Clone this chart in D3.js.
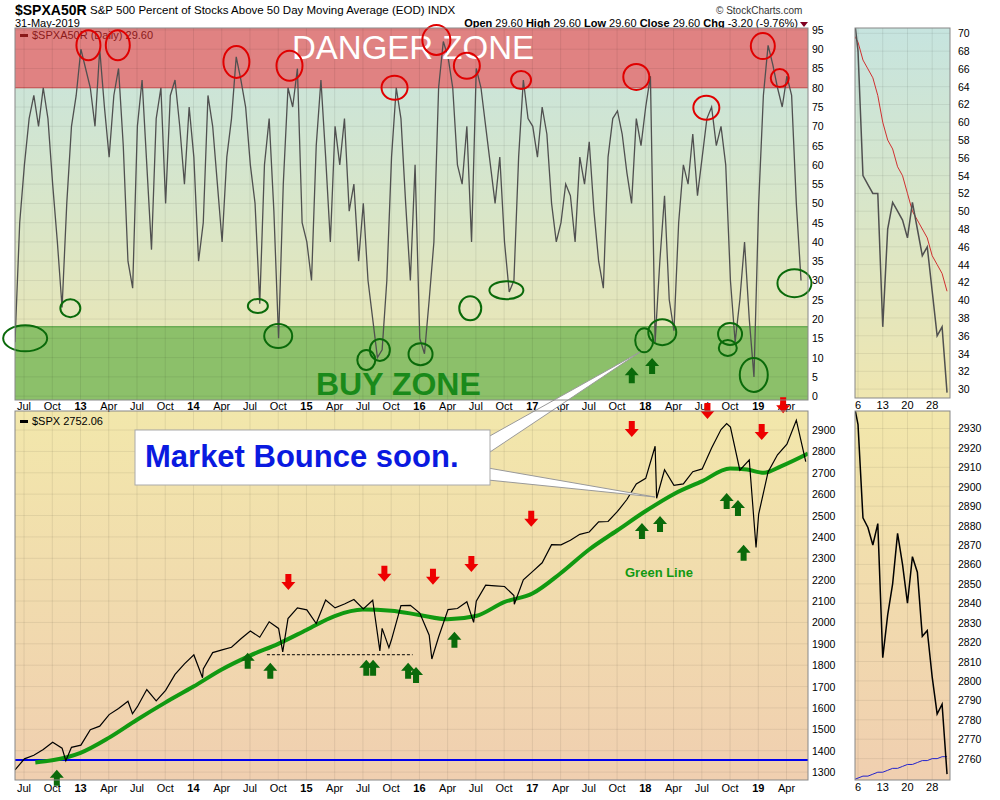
<!DOCTYPE html><html><head><meta charset="utf-8"><script src="https://cdn.jsdelivr.net/npm/d3@7"></script>
<style>body{margin:0;background:#fff}text{font-family:Arial,"Liberation Sans",sans-serif}</style></head><body><svg id="c" width="1000" height="800"></svg>
<script>
// semi-monthly readings of $SPXA50R starting Jun 2012
const pctStart = 2012.42;
const pctValues = [14,45,60,72,78,70,80,72,55,40,23,50,70,78,
90,85,80,70,90,75,62,78,85,65,35,28,70,82,60,38,72,80,50,78,82,70,55,75,
62,35,45,78,70,55,40,62,72,88,82,75,60,50,24,60,72,48,15,55,80,75,85,45,
40,30,65,82,62,40,70,60,72,48,55,35,50,30,20,10,12,30,62,80,72,50,30,60,
15,11,25,40,80,92,88,80,60,55,70,40,85,80,70,60,50,62,40,27,30,62,82,72,
70,62,75,68,50,40,45,55,52,40,62,55,66,48,35,28,62,72,74,68,58,50,72,65,
75,83,14,35,52,25,17,45,60,55,68,52,62,72,75,65,70,60,30,14,25,40,20,5,
50,78,91,86,80,75,83,78,50,30];
// S&P 500 month-end closes from Jun 2012
const spxStart = 2012.42;
const spxMonthly = [1310,1362,1379,1406,1440,1412,1416,1426,
1498,1515,1569,1597,1631,1606,1686,1633,1682,1757,1806,1848,
1783,1859,1872,1884,1924,1960,1931,2003,1972,2018,2068,2059,
1995,2105,2068,2086,2107,2063,2104,1972,1920,2079,2080,2044,
1940,1932,2060,2065,2097,2099,2174,2171,2168,2126,2199,2239,
2279,2364,2363,2384,2412,2423,2470,2472,2519,2575,2648,2674,
2824,2714,2641,2648,2705,2718,2816,2902,2914,2712,2760,2507,
2704,2784,2834,2946,2752];
const spxExtremes = [[2012.87,1353],[2013.46,1573],[2014.08,1741],[2014.79,1862],[2015.65,1867],[2015.73,1882],[2016.11,1829],[2016.48,2000],[2016.84,2085],[2018.10,2581],[2018.72,2930],[2018.98,2351]];
const maYears = [2012.6,2012.75,2013.0,2013.25,2013.5,2013.75,2014.0,2014.25,2014.5,2014.75,2015.0,2015.25,2015.5,2015.75,2016.0,2016.25,2016.5,2016.75,2017.0,2017.25,2017.5,2017.75,2018.0,2018.25,2018.5,2018.75,2018.9,2019.05,2019.2,2019.44];
const maValues = [1345,1355,1390,1460,1545,1625,1700,1780,1845,1900,1965,2030,2060,2055,2035,2015,2030,2095,2135,2230,2340,2430,2520,2600,2660,2720,2715,2700,2730,2790];
const redArrows = [[2014.84,2152],[2015.69,2190],[2016.12,2176],[2016.46,2236],[2016.99,2447],[2017.88,2867],[2018.55,2951],[2019.03,2853],[2019.22,2979]];
const greenArrows = [[2012.79,1311],[2014.48,1858],[2014.68,1811],[2015.53,1825],[2015.59,1825],[2015.90,1811],[2015.97,1792],[2016.31,1956],[2017.97,2465],[2018.13,2498],[2018.72,2606],[2018.82,2573],[2018.87,2363]];
const greenArrowsTop = [[2017.88,7.5],[2018.06,9.9]];
const redCircles = [[2013.07,91,12,15],[2013.33,91,12,15],[2014.38,86.7,13,16],[2014.85,85.7,13,15],[2015.78,80,13,12],[2016.15,92.4,14,15],[2016.42,85.7,13,13],[2016.90,82,10,9],[2017.92,82.8,13,13],[2018.54,74.8,13,12],[2019.04,90.8,12,13],[2019.19,82.5,9,9]];
const greenCircles = [[2012.51,15,22,13],[2012.91,22.8,10,9],[2014.57,23.4,10,7],[2014.75,15.6,14,12],[2015.53,9.4,9,10],[2015.65,12,10,11],[2016.01,10.9,12,11],[2016.45,22.8,11,12],[2016.77,27.5,17,9],[2017.99,14.5,9,12],[2018.15,16.6,14,13],[2018.75,16.1,12,11],[2018.73,12.5,9,8],[2018.96,5.5,14,17],[2019.32,29.3,17,14]];
const miniPct = [72,71,73,68,54,53,52,52,37,48,51,50,49,47,51,48,45,46,41,36,37,29.6];
const miniPctMA = [72,71,70,69,67,66,65,63,60,58,57,55,54,52,50,49,48,47,45,44,43,41];
const miniSpx = [2923,2917,2945,2932,2884,2879,2870,2881,2812,2834,2850,2876,2860,2840,2864,2856,2823,2826,2802,2783,2788,2752];
const miniSpxMA = [2748,2749,2749,2750,2751,2751,2752,2753,2753,2754,2755,2755,2756,2757,2757,2758,2759,2759,2760,2760,2761,2761];
const miniTickIdx = [3,8,13,18], miniTickLbl = ["6","13","20","28"];
const quarterLbl = ["","Apr","Jul","Oct"];

const svg = d3.select("#c");
const defs = svg.append("defs");
function grad(id, stops){const g=defs.append("linearGradient").attr("id",id).attr("x1",0).attr("y1",0).attr("x2",0).attr("y2",1);stops.forEach(s=>g.append("stop").attr("offset",s[0]).attr("stop-color",s[1]));}
grad("gTop",[[0,"#c6e4df"],[0.5,"#d9e6c8"],[1,"#efe6b0"]]);
grad("gBot",[[0,"#f2e7ab"],[1,"#f0cfb0"]]);
const L=15,R=808;
const x = d3.scaleLinear().domain([2012.42,2019.44]).range([L,R]);
const yT = d3.scaleLinear().domain([-1,95.5]).range([400,28]);
const yB = d3.scaleLinear().domain([1263,2989]).range([780,411]);
[["cT",28,400],["cB",411,780]].forEach(c=>defs.append("clipPath").attr("id",c[0]).append("rect").attr("x",L).attr("y",c[1]).attr("width",R-L).attr("height",c[2]-c[1]));

// headers
svg.append("text").attr("x",15).attr("y",15).attr("font-size",14).attr("font-weight","bold").text("$SPXA50R");
svg.append("text").attr("x",90).attr("y",14).attr("font-size",11.5).text("S&P 500 Percent of Stocks Above 50 Day Moving Average (EOD)  INDX");
svg.append("text").attr("x",15).attr("y",27).attr("font-size",11).text("31-May-2019");
svg.append("text").attr("x",716).attr("y",14).attr("font-size",10).attr("fill","#333").text("© StockCharts.com");
const hdr=svg.append("text").attr("x",798).attr("y",27).attr("font-size",11).attr("text-anchor","end");
[["Open"," 29.60  "],["High"," 29.60  "],["Low"," 29.60  "],["Close"," 29.60  "],["Chg"," -3.20 (-9.76%)"]].forEach(p=>{hdr.append("tspan").attr("font-weight","bold").text(p[0]);hdr.append("tspan").text(p[1]);});
svg.append("path").attr("d","M800,22 L808,22 L804,27 Z").attr("fill","#800020");

// panels
svg.append("rect").attr("x",L).attr("y",28).attr("width",R-L).attr("height",372).attr("fill","url(#gTop)");
svg.append("rect").attr("x",L).attr("y",411).attr("width",R-L).attr("height",369).attr("fill","url(#gBot)");
svg.append("rect").attr("x",L).attr("y",yT(95.5)).attr("width",R-L).attr("height",yT(80)-yT(95.5)).attr("fill","#e08282");
svg.append("rect").attr("x",L).attr("y",yT(18)).attr("width",R-L).attr("height",yT(-1)-yT(18)).attr("fill","#8cc06a");
svg.append("line").attr("x1",L).attr("x2",R).attr("y1",yT(80)).attr("y2",yT(80)).attr("stroke","#d05050");
svg.append("line").attr("x1",L).attr("x2",R).attr("y1",yT(18)).attr("y2",yT(18)).attr("stroke","#4a9a3a");

// grid
const qt=[];for(let yr=2012;yr<=2019;yr++)for(let q=0;q<4;q++){const t=yr+q/4;if(t>2012.42&&t<2019.44)qt.push(t);}
qt.forEach(t=>{[[28,400],[411,780]].forEach(r=>svg.append("line").attr("x1",x(t)).attr("x2",x(t)).attr("y1",r[0]).attr("y2",r[1]).attr("stroke","#000").attr("stroke-opacity",0.08));
 [405,787].forEach(yy=>svg.append("text").attr("x",x(t)).attr("y",yy+5).attr("font-size",11).attr("text-anchor","middle").attr("font-weight",(t%1===0)?"bold":"normal").text(t%1===0?String(t%100).padStart(2,"0"):quarterLbl[Math.round((t%1)*4)]));});
d3.range(0,96,5).forEach(v=>{svg.append("line").attr("x1",L).attr("x2",R).attr("y1",yT(v)).attr("y2",yT(v)).attr("stroke","#000").attr("stroke-opacity",0.07);
 svg.append("text").attr("x",812).attr("y",yT(v)+4).attr("font-size",10.5).text(v);});
d3.range(1300,2901,100).forEach(v=>{svg.append("line").attr("x1",L).attr("x2",R).attr("y1",yB(v)).attr("y2",yB(v)).attr("stroke","#000").attr("stroke-opacity",0.07);
 svg.append("text").attr("x",812).attr("y",yB(v)+4).attr("font-size",10.5).text(v);});

// top series
const pct = pctValues.map((v,i)=>[pctStart+i/24,v]);
const ct=svg.append("g").attr("clip-path","url(#cT)");
ct.append("path").datum(pct).attr("d",d3.line().x(d=>x(d[0])).y(d=>yT(d[1])).curveBasis).attr("fill","none").attr("stroke","#d03030").attr("stroke-width",1);
ct.append("path").datum(pct).attr("d",d3.line().x(d=>x(d[0])).y(d=>yT(d[1]))).attr("fill","none").attr("stroke","#505050").attr("stroke-width",1.3);
svg.append("text").attr("x",292).attr("y",59).attr("font-size",33).attr("fill","#fff").text("DANGER ZONE");
svg.append("text").attr("x",316).attr("y",395).attr("font-size",32).attr("font-weight","bold").attr("fill","#1a8a1a").text("BUY ZONE");
svg.append("rect").attr("x",20).attr("y",34).attr("width",8).attr("height",3).attr("fill","#8b1a1a");
svg.append("text").attr("x",32).attr("y",39).attr("font-size",11).attr("fill","#8b1a1a").text("$SPXA50R (Daily) 29.60");
redCircles.forEach(c=>svg.append("ellipse").attr("cx",x(c[0])).attr("cy",yT(c[1])).attr("rx",c[2]).attr("ry",c[3]).attr("fill","none").attr("stroke","#e00000").attr("stroke-width",2));
greenCircles.forEach(c=>svg.append("ellipse").attr("cx",x(c[0])).attr("cy",yT(c[1])).attr("rx",c[2]).attr("ry",c[3]).attr("fill","none").attr("stroke","#0a6a0a").attr("stroke-width",2));

// bottom series
const spx = spxMonthly.map((v,i)=>[spxStart+i/12,v]).concat(spxExtremes).sort((a,b)=>a[0]-b[0]);
const cb=svg.append("g").attr("clip-path","url(#cB)");
cb.append("line").attr("x1",L).attr("x2",R).attr("y1",yB(1356)).attr("y2",yB(1356)).attr("stroke","#0000ee").attr("stroke-width",2);
cb.append("line").attr("x1",x(2014.65)).attr("x2",x(2015.94)).attr("y1",yB(1849)).attr("y2",yB(1849)).attr("stroke","#000").attr("stroke-dasharray","3,2");
cb.append("path").datum(maYears.map((t,i)=>[t,maValues[i]])).attr("d",d3.line().x(d=>x(d[0])).y(d=>yB(d[1])).curve(d3.curveMonotoneX)).attr("fill","none").attr("stroke","#119911").attr("stroke-width",4);
cb.append("path").datum(spx).attr("d",d3.line().x(d=>x(d[0])).y(d=>yB(d[1]))).attr("fill","none").attr("stroke","#000").attr("stroke-width",1.2);
svg.append("rect").attr("x",20).attr("y",420).attr("width",8).attr("height",3).attr("fill","#000");
svg.append("text").attr("x",32).attr("y",425).attr("font-size",11).text("$SPX 2752.06");
svg.append("text").attr("x",625).attr("y",577).attr("font-size",13).attr("font-weight","bold").attr("fill","#119911").text("Green Line");
function arrow(px,py,down,col){const d=down?`M${px},${py} l-7,-8 h4 v-8 h6 v8 h4 Z`:`M${px},${py} l-7,8 h4 v8 h6 v-8 h4 Z`;svg.append("path").attr("d",d).attr("fill",col);}
redArrows.forEach(a=>arrow(x(a[0]),yB(a[1]),true,"#ee0000"));
greenArrows.forEach(a=>arrow(x(a[0]),yB(a[1]),false,"#0a6a0a"));
greenArrowsTop.forEach(a=>arrow(x(a[0]),yT(a[1]),false,"#0a6a0a"));
// callout
svg.append("path").attr("d","M488,437 L640,352 L490,452 Z").attr("fill","#fff").attr("stroke","#999");
svg.append("path").attr("d","M488,468 L655,497 L488,480 Z").attr("fill","#fff").attr("stroke","#999");
svg.append("rect").attr("x",135).attr("y",430).attr("width",355).attr("height",55).attr("fill","#fff").attr("stroke","#aaa");
svg.append("text").attr("x",145).attr("y",467).attr("font-size",31).attr("font-weight","bold").attr("fill","#0a1ae0").text("Market Bounce soon.");
// frames
[[L,28,R-L,372],[L,411,R-L,369]].forEach(r=>svg.append("rect").attr("x",r[0]).attr("y",r[1]).attr("width",r[2]).attr("height",r[3]).attr("fill","none").attr("stroke","#888"));

// mini panels
const xm=d3.scaleLinear().domain([2.39,21.6]).range([855,950]);
const ymT=d3.scaleLinear().domain([29,70.6]).range([398,28]);
const ymB=d3.scaleLinear().domain([2749,2939]).range([780,411]);
defs.append("clipPath").attr("id","cmT").append("rect").attr("x",855).attr("y",28).attr("width",95).attr("height",370);
defs.append("clipPath").attr("id","cmB").append("rect").attr("x",855).attr("y",411).attr("width",95).attr("height",369);
svg.append("rect").attr("x",855).attr("y",28).attr("width",95).attr("height",370).attr("fill","url(#gTop)");
svg.append("rect").attr("x",855).attr("y",411).attr("width",95).attr("height",369).attr("fill","url(#gBot)");
miniTickIdx.forEach((t,i)=>{[[28,398],[411,780]].forEach(r=>svg.append("line").attr("x1",xm(t)).attr("x2",xm(t)).attr("y1",r[0]).attr("y2",r[1]).attr("stroke","#000").attr("stroke-opacity",0.08));
 [409,791].forEach(yy=>svg.append("text").attr("x",xm(t)).attr("y",yy).attr("font-size",11).attr("text-anchor","middle").text(miniTickLbl[i]));});
d3.range(30,71,2).forEach(v=>{svg.append("line").attr("x1",855).attr("x2",950).attr("y1",ymT(v)).attr("y2",ymT(v)).attr("stroke","#000").attr("stroke-opacity",0.07);svg.append("text").attr("x",958).attr("y",ymT(v)+4).attr("font-size",10.5).text(v);});
d3.range(2760,2931,10).forEach(v=>{svg.append("line").attr("x1",855).attr("x2",950).attr("y1",ymB(v)).attr("y2",ymB(v)).attr("stroke","#000").attr("stroke-opacity",0.07);svg.append("text").attr("x",958).attr("y",ymB(v)+4).attr("font-size",10.5).text(v);});
const ml=(yy)=>d3.line().x((d,i)=>xm(i)).y(d=>yy(d));
const mt=svg.append("g").attr("clip-path","url(#cmT)"),mb=svg.append("g").attr("clip-path","url(#cmB)");
mt.append("path").datum(miniPctMA).attr("d",ml(ymT)).attr("fill","none").attr("stroke","#d03030");
mt.append("path").datum(miniPct).attr("d",ml(ymT)).attr("fill","none").attr("stroke","#505050").attr("stroke-width",1.5);
mb.append("path").datum(miniSpxMA).attr("d",ml(ymB)).attr("fill","none").attr("stroke","#2222cc");
mb.append("path").datum(miniSpx).attr("d",ml(ymB)).attr("fill","none").attr("stroke","#000").attr("stroke-width",1.5);
[[855,28,95,370],[855,411,95,369]].forEach(r=>svg.append("rect").attr("x",r[0]).attr("y",r[1]).attr("width",r[2]).attr("height",r[3]).attr("fill","none").attr("stroke","#888"));
</script></body></html>
